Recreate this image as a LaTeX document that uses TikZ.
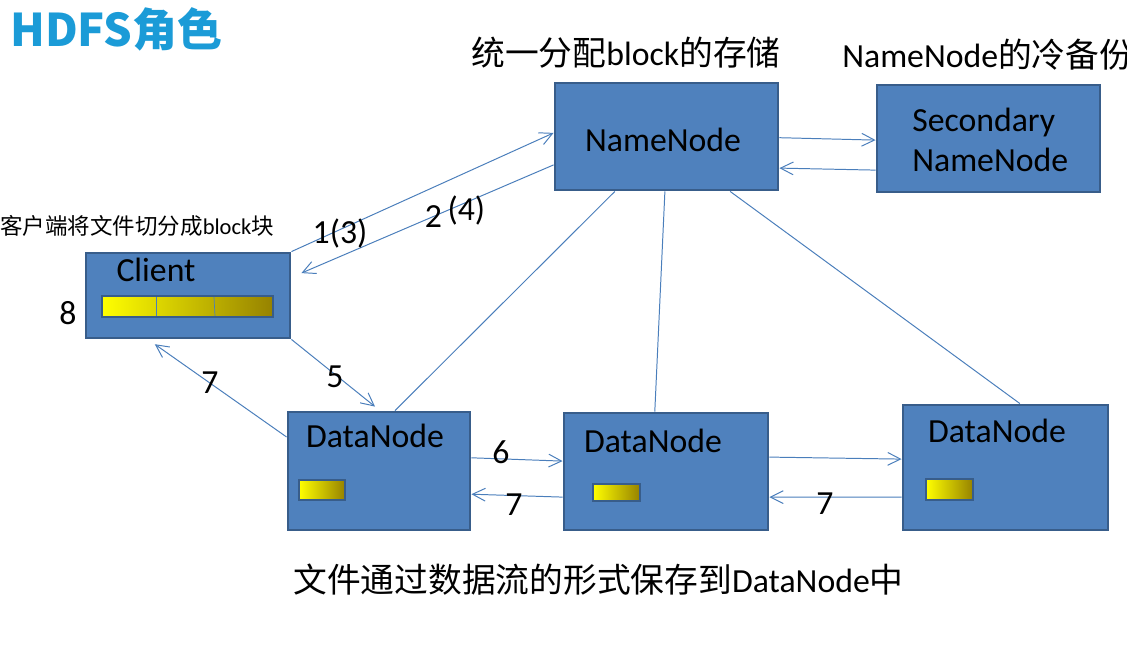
\documentclass[tikz,border=0pt]{standalone}
\usepackage{fontspec}
\setmainfont{Carlito}
\newfontfamily\cjk{Noto Sans CJK SC}
\usetikzlibrary{arrows.meta}
\definecolor{boxfill}{HTML}{4F81BD}
\definecolor{boxline}{HTML}{385D8A}
\definecolor{wire}{HTML}{4A7EBB}
\definecolor{titleblue}{HTML}{1B9BD7}
\definecolor{barright}{RGB}{150,130,0}
\begin{document}
\begin{tikzpicture}[x=0.025cm, y=-0.025cm,
    box/.style={draw=boxline, fill=boxfill, line width=2pt, inner sep=0pt},
    boxtext/.style={inner sep=0pt, font=\fontsize{24}{28}\selectfont},
    num/.style={inner sep=0pt, font=\fontsize{24}{28}\selectfont},
    note/.style={inner sep=0pt, anchor=west, font=\fontsize{24}{28}\selectfont},
    bar/.style={draw=boxline, line width=2pt, left color=yellow, right color=barright},
    arr/.style={draw=wire, line width=0.7pt, -{Straight Barb[length=3.2mm,width=3.2mm]}},
    link/.style={draw=wire, line width=0.7pt}]
        \useasboundingbox (0,0) rectangle (1127,651);

        % boxes
        \node[box, minimum width=5.575cm, minimum height=2.675cm] (nn) at (666.5,136.5) {};
        \node[box, minimum width=5.575cm, minimum height=2.675cm] (snn) at (988.5,138.5) {};
        \node[box, minimum width=5.1cm, minimum height=2.125cm] (cl) at (188,295.5) {};
        \node[box, minimum width=4.55cm, minimum height=2.95cm] (dn1) at (379,471) {};
        \node[box, minimum width=5.1cm, minimum height=2.925cm] (dn2) at (666,471.5) {};
        \node[box, minimum width=5.125cm, minimum height=3.125cm] (dn3) at (1005.5,467.5) {};

        \node[boxtext] (nnt) at (663,140) {NameNode};
        \node[boxtext, anchor=west, align=left] (snnt) at (912,140) {Secondary\\NameNode};
        \node[boxtext] (clt) at (156,270) {Client};
        \node[boxtext] (dn1t) at (375,436) {DataNode};
        \node[boxtext] (dn2t) at (653,441) {DataNode};
        \node[boxtext] (dn3t) at (997,431) {DataNode};

        % blocks
        \draw[bar] (102,296) rectangle (273,317);
        \draw[wire, line width=0.5pt] (156,297) -- (156,316);
        \draw[wire, line width=0.5pt] (214,297) -- (215,316);
        \draw[bar] (299,480) rectangle (345,500);
        \draw[bar] (593,484) rectangle (640,501);
        \draw[bar] (926,479) rectangle (973,500);

        % texts
        \node[note, text=titleblue, font=\fontsize{32}{36}\selectfont\cjk\bfseries] (title) at (10,29) {HDFS角色};
        \node[note, anchor=center] (nnnote) at (626,53) {{\cjk 统一分配}block{\cjk 的存储}};
        \node[note] (snnnote) at (842,55) {NameNode{\cjk 的冷备份}};
        \node[note, font=\fontsize{16}{18}\selectfont] (clnote) at (0,226) {{\cjk 客户端将文件切分成}block{\cjk 块}};
        \node[note] (dnnote) at (293,580) {{\cjk 文件通过数据流的形式保存到}DataNode{\cjk 中}};

        % connectors
        \draw[arr] (cl.north east) -- ([yshift=0.09cm]nn.west);
        \draw[arr] ([yshift=-0.71cm]nn.west) -- ([xshift=0.25cm,yshift=0.56cm]cl.east);
        \draw[arr] ([yshift=-0.03cm]nn.east) -- ([yshift=-0.04cm]snn.west);
        \draw[arr] ([yshift=-0.79cm]snn.west) -- ([yshift=-0.79cm]nn.east);

        \draw[link] ([xshift=-1.29cm]nn.south) -- ([xshift=0.4cm]dn1.north);
        \draw[link] ([xshift=-0.04cm]nn.south) -- ([xshift=-0.28cm]dn2.north);
        \draw[link] ([xshift=1.59cm]nn.south) -- ([xshift=0.36cm]dn3.north);

        \draw[arr] (cl.south east) -- ([xshift=-0.1cm,yshift=0.1cm]dn1.north);
        \draw[arr] ([yshift=0.85cm]dn1.west) -- ([xshift=-0.83cm,yshift=-0.12cm]cl.south);
        \draw[arr] ([yshift=0.33cm]dn1.east) -- ([yshift=0.26cm]dn2.west);
        \draw[arr] ([yshift=-0.64cm]dn2.west) -- ([yshift=-0.58cm]dn1.east);
        \draw[arr] ([yshift=0.36cm]dn2.east) -- ([yshift=0.21cm]dn3.west);
        \draw[arr] ([yshift=-0.74cm]dn3.west) -- ([yshift=-0.64cm]dn2.east);

        % step numbers
        \node[num] (n13) at (340,233) {1(3)};
        \node[num] (n24) at (455,212) {2\,\raisebox{5pt}{(4)}};
        \node[num] (n5) at (335,377) {5};
        \node[num] (n7a) at (210,383) {7};
        \node[num] (n6) at (501,452) {6};
        \node[num] (n7b) at (514,505) {7};
        \node[num] (n7c) at (825,504) {7};
        \node[num] (n8) at (68,313) {8};
    \end{tikzpicture}
\end{document}
